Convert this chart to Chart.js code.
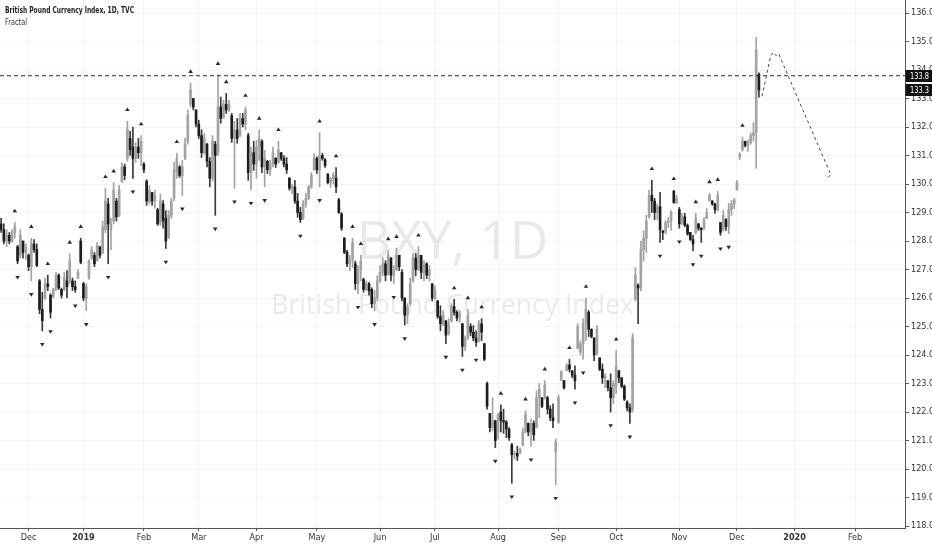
<!DOCTYPE html>
<html><head><meta charset="utf-8">
<script src="https://cdn.jsdelivr.net/npm/chart.js@4.4.1/dist/chart.umd.min.js"></script>
<style>html,body{margin:0;padding:0;background:#fff}#wrap{position:relative;width:932px;height:550px}</style>
</head><body><div id="wrap"><canvas id="c" width="932" height="550"></canvas></div>
<script>
// ---- categories (trading calendar) ----
const startDate = '2018-11-19';
const holidays = ['2018-12-25','2019-01-01','2019-12-25','2020-01-01'];
const monthNames = ['Jan','Feb','Mar','Apr','May','Jun','Jul','Aug','Sep','Oct','Nov','Dec'];

// ---- series values (daily OHLC) ----
const openP = [
128.6,128.4,128.0,128.2,128.0,128.3,127.8,127.5,128.0,127.6,
127.5,127.1,127.9,127.7,126.6,125.6,126.0,126.5,126.1,126.05,
126.3,126.8,126.3,126.3,126.6,126.6,126.6,126.4,126.7,128.0,
126.5,126.0,126.7,127.4,127.5,127.3,127.8,127.6,128.4,129.3,
128.4,128.7,129.4,128.9,130.1,130.6,130.9,131.6,131.3,130.9,
131.3,131.1,130.7,130.1,129.4,129.7,129.4,129.1,128.65,129.3,
128.8,128.1,128.9,129.5,130.4,130.6,130.3,130.9,131.5,132.8,
133.0,132.6,132.1,131.7,131.1,131.4,130.8,130.2,131.4,131.1,
132.7,132.35,132.8,132.6,132.4,131.6,131.9,131.7,132.3,132.1,
131.7,130.4,131.1,130.7,131.3,131.5,130.6,130.8,130.5,130.7,
130.9,130.75,131.1,130.9,130.7,130.2,129.85,129.9,129.4,129.0,
128.8,129.3,129.5,129.9,130.5,130.9,130.5,131.0,130.85,130.35,
130.05,130.2,130.2,129.45,128.95,128.1,127.6,127.2,127.35,127.2,
126.5,127.0,126.65,126.3,126.5,126.3,125.8,126.0,126.6,126.9,
127.2,126.85,127.4,126.8,127.0,127.5,126.9,126.0,125.4,125.8,
126.6,127.4,127.0,127.5,126.9,127.2,126.8,126.5,126.0,125.9,
125.35,125.1,125.2,124.75,125.2,125.7,125.5,125.3,125.1,124.3,
124.6,125.0,124.8,124.6,124.5,125.1,124.4,123.0,121.95,121.45,
121.7,121.3,122.0,121.7,121.65,121.4,120.85,120.5,120.55,120.55,
120.85,121.3,121.6,121.3,121.6,121.45,122.5,122.5,122.5,122.5,
122.1,121.8,120.6,121.65,123.1,123.1,123.45,123.65,123.45,123.3,
124.25,124.1,124.4,125.1,125.5,124.9,124.6,124.05,123.9,123.5,
123.2,123.1,122.85,122.5,122.9,123.45,123.2,122.9,122.35,122.15,
122.1,125.95,126.45,126.35,127.7,128.1,128.85,129.6,129.4,129.0,
129.2,128.35,128.3,128.65,128.7,129.75,129.35,129.1,128.6,128.85,
128.55,128.3,128.05,128.3,128.6,128.45,128.45,128.8,129.42,129.4,
129.3,129.1,128.65,128.4,128.75,128.5,129.1,129.3,129.8,130.95,
131.2,131.5,131.35,131.45,131.7,131.8,133.85];
const highP = [
128.8,128.6,128.4,128.3,128.4,128.65,127.85,128.4,128.0,127.9,
127.55,128.1,128.05,127.9,126.65,126.2,126.7,126.8,126.15,126.35,
126.9,126.85,126.35,126.9,126.96,127.55,126.7,126.6,127.0,128.1,
126.55,126.5,127.35,127.8,127.6,127.95,127.8,128.7,129.85,129.5,
128.8,130.05,129.5,129.95,130.75,130.7,132.2,131.85,132.0,131.45,
131.6,131.7,130.75,130.15,129.95,129.7,129.78,129.15,129.65,129.42,
129.07,129.07,129.5,130.76,131.08,130.65,130.83,131.6,132.6,133.54,
133.0,132.6,132.24,131.9,131.78,131.43,130.93,131.7,131.5,133.82,
133.05,132.94,133.18,132.94,132.48,132.2,132.3,132.48,132.48,132.7,
131.78,131.3,131.5,131.53,131.9,131.55,131.18,130.83,130.83,131.3,
130.93,131.5,131.1,131.0,130.93,130.23,130.0,130.13,129.67,129.18,
129.42,129.67,129.95,130.4,131.07,130.95,131.8,131.08,130.9,130.37,
130.23,130.4,130.58,129.5,129.0,128.12,127.67,127.5,128.1,127.3,
127.14,127.5,126.7,126.6,126.55,126.36,126.26,126.78,127.14,127.42,
127.31,127.67,127.42,127.14,127.75,127.5,127.0,126.0,125.8,126.7,
127.56,127.56,127.8,127.5,127.31,127.24,127.14,126.5,126.43,125.91,
125.73,125.56,125.21,125.28,125.8,125.95,125.56,125.56,125.1,124.67,
125.6,125.1,125.03,124.85,125.21,125.28,124.4,123.05,121.95,122.5,
121.7,121.95,122.25,122.1,121.7,121.45,120.9,120.63,120.8,120.74,
121.44,122.05,121.62,121.76,121.69,122.74,123.0,122.5,123.1,122.55,
122.22,122.29,121.06,122.6,123.45,123.1,123.7,123.85,123.45,123.62,
125.1,124.5,125.27,126.0,125.56,124.92,124.61,125.03,123.9,123.69,
123.34,123.1,123.34,123.1,124.15,123.45,123.2,122.95,122.39,122.29,
124.75,127.07,126.5,128.0,128.35,128.9,129.78,130.13,129.5,129.3,
129.71,128.37,128.72,128.83,129.07,129.78,129.6,129.18,128.97,128.97,
128.6,128.3,128.2,128.97,128.62,128.47,128.83,129.14,129.67,129.42,
129.32,129.75,128.65,129.07,128.79,129.32,129.42,129.49,130.13,131.1,
131.65,131.5,131.55,131.8,132.15,135.15,133.9];
const lowP = [
128.3,127.9,127.8,127.9,127.95,128.1,127.2,127.4,127.4,127.35,
126.96,126.6,127.6,127.1,125.45,124.85,125.95,126.26,125.3,126.0,
126.26,126.3,126.0,126.26,126.0,126.5,126.26,126.2,126.68,127.2,
125.9,125.55,126.65,127.35,127.1,127.3,127.4,127.55,128.3,127.2,
127.7,128.6,128.7,128.85,130.05,130.15,130.8,131.0,130.2,130.76,
130.9,130.65,130.4,129.25,129.3,129.25,129.15,128.55,128.55,128.45,
127.74,128.1,128.8,129.42,130.2,130.23,129.6,130.85,131.4,132.7,
132.6,132.0,131.6,130.93,131.05,130.6,129.9,130.1,128.9,131.0,
132.13,132.3,132.48,132.55,131.46,129.85,131.43,131.65,132.0,131.9,
130.13,129.8,130.48,130.2,130.83,130.4,129.9,130.37,130.3,130.6,
130.58,130.73,130.83,130.6,130.37,129.78,129.67,129.32,128.83,128.65,
128.75,129.18,129.45,129.85,130.48,130.37,129.9,130.83,130.58,130.0,
129.88,130.0,129.7,128.97,128.37,127.56,127.1,126.96,127.07,126.3,
126.15,126.6,126.2,126.26,126.1,125.66,125.55,125.9,126.55,126.78,
126.6,126.8,126.6,126.5,126.95,126.96,125.9,125.05,125.1,125.75,
126.55,126.78,126.96,126.68,126.6,126.68,126.6,125.9,125.95,125.28,
124.85,125.03,124.4,124.7,125.15,125.4,125.2,125.14,123.95,124.15,
124.55,124.67,124.5,124.3,124.45,124.5,123.8,122.1,121.3,121.34,
120.75,121.05,121.3,121.25,121.1,121.0,119.5,120.35,120.3,120.53,
120.8,121.27,121.16,120.8,121.0,121.44,121.8,122.15,122.45,121.93,
121.69,121.45,119.45,121.6,123.1,122.8,123.45,123.4,123.2,122.8,
124.2,124.0,123.85,124.5,124.65,124.6,123.8,124.0,123.45,123.0,
122.85,122.74,122.0,122.3,122.65,123.03,122.85,122.4,122.04,121.6,
122.0,125.9,125.1,126.25,127.3,127.6,128.8,129.0,128.75,128.75,
127.95,128.05,128.26,128.47,128.37,129.32,129.3,128.45,128.58,128.5,
128.2,128.02,127.65,128.26,128.37,127.95,128.4,128.79,129.4,129.25,
128.97,129.05,128.2,128.35,128.37,128.26,128.9,129.14,129.78,130.85,
131.15,131.3,131.15,131.4,131.5,130.55,133.05];
const closeP = [
128.4,128.0,128.2,128.0,128.3,128.5,127.3,128.2,127.6,127.8,
127.1,127.9,127.7,127.15,125.6,125.2,126.5,126.4,125.5,126.3,
126.8,126.35,126.1,126.7,126.4,127.3,126.4,126.3,126.9,127.25,
126.0,126.4,127.3,127.7,127.2,127.85,127.5,128.5,129.4,128.6,
128.6,129.8,128.85,129.8,130.6,130.3,131.9,131.2,130.9,131.3,
131.1,131.5,130.5,129.4,129.8,129.4,129.6,128.6,129.4,128.7,
128.0,128.9,129.4,130.5,130.9,130.3,130.6,131.4,132.4,133.3,
132.7,132.1,131.7,131.1,131.6,130.8,130.2,131.5,131.0,132.7,
132.3,132.8,132.6,132.8,131.6,131.9,131.6,132.3,132.1,132.6,
130.4,131.1,130.7,131.3,131.6,130.6,130.9,130.5,130.7,131.1,
130.7,131.2,130.9,130.7,130.5,129.85,129.9,129.4,129.0,128.75,
129.3,129.5,129.9,130.3,130.9,130.5,131.0,130.9,130.65,130.05,
130.2,130.3,129.9,129.0,128.45,127.6,127.2,127.35,127.95,126.5,
127.0,127.3,126.3,126.5,126.25,125.8,126.0,126.6,126.9,127.2,
126.8,127.5,126.8,127.0,127.5,127.1,126.0,125.4,125.7,126.5,
127.4,127.0,127.5,126.9,127.2,126.8,127.0,126.0,126.3,125.35,
125.1,125.4,124.7,125.1,125.7,125.5,125.3,125.45,124.3,124.6,
125.4,124.8,124.6,124.45,125.1,124.8,123.85,122.2,121.45,121.7,
121.0,121.9,121.7,121.65,121.4,121.1,120.5,120.55,120.45,120.7,
121.3,121.9,121.3,121.6,121.2,122.5,122.8,122.2,122.95,122.1,
121.8,121.7,120.95,122.5,123.4,122.85,123.65,123.5,123.3,123.1,
125.0,124.4,125.1,125.6,124.9,124.65,124.0,124.9,123.5,123.2,
123.25,122.85,122.5,123.0,123.6,123.2,122.9,122.45,122.15,122.0,
124.6,126.8,126.35,127.7,128.1,128.7,129.6,129.4,129.0,129.2,
128.4,128.3,128.65,128.7,129.0,129.35,129.5,128.6,128.85,128.55,
128.25,128.05,127.9,128.8,128.45,128.4,128.75,129.0,129.6,129.3,
129.1,129.6,128.3,128.9,128.5,129.1,129.3,129.45,130.05,131.05,
131.5,131.35,131.45,131.7,131.8,134.7,133.3];

// Fractal indicator marks (bar numbers)
const fractalUp = [5,11,17,25,29,38,41,46,51,64,69,79,82,89,94,101,116,122,128,131,141,144,152,165,170,175,182,191,198,207,213,224,237,245,253,258,261,270];
const fractalDown = [6,11,15,18,27,31,39,48,60,66,78,85,91,96,109,116,130,136,143,147,162,168,173,180,186,193,202,209,212,222,229,240,247,252,255,262,265];

// Drawings: horizontal level and projected path (bar number, price)
const levelLine = 133.8;
const projBar = [277.1,280.3,281.3,282.3,283.2,301.5,302.2,301.1,300.1];
const projVal = [133.08,134.5,134.62,134.5,134.57,130.48,130.34,130.22,130.3];

// Tick labels
const yTicks = [118,119,120,121,122,123,124,125,126,127,128,129,130,131,132,133,134,135,136];
const titleText = 'British Pound Currency Index, 1D, TVC';
const indicatorText = 'Fractal';
const watermarkTop = 'BXY, 1D';
const watermarkBottom = 'British Pound Currency Index';

// ---- build calendar ----
const dates = [];
{ let d = new Date(startDate + 'T00:00:00Z');
  while (dates.length < 340) {
    const s = d.toISOString().slice(0,10), w = d.getUTCDay();
    if (w !== 0 && w !== 6 && !holidays.includes(s)) dates.push(s);
    d.setUTCDate(d.getUTCDate() + 1);
  } }
const X_MIN = -0.4, X_MAX = 329.2;
const monthTicks = [];
for (let i = 1; i < dates.length && i <= X_MAX; i++) {
  const m = +dates[i].slice(5,7), pm = +dates[i-1].slice(5,7);
  if (m !== pm) monthTicks.push({ value: i, label: m === 1 ? dates[i].slice(0,4) : monthNames[m-1], year: m === 1 });
}
const tickLabel = {}; monthTicks.forEach(t => tickLabel[t.value] = t);

const UP = '#a2a2a2', DOWN = '#1c1c1c';
const n = closeP.length;
const idx = Array.from({length: n}, (_, i) => i);
const isUp = idx.map(i => closeP[i] >= openP[i]);
const FONT = "'Liberation Sans Narrow','DejaVu Sans Condensed','Liberation Sans',Arial,sans-serif";

function narrowText(ctx, txt, x, y, targetW) {
  const w = ctx.measureText(txt).width;
  const k = Math.min(1, targetW / w);
  ctx.save(); ctx.translate(x, y); ctx.scale(k, 1); ctx.fillText(txt, 0, 0); ctx.restore();
}

const decor = {
  id: 'decor',
  beforeDatasetsDraw(chart) {
    const { ctx, chartArea: a } = chart;
    ctx.save();
    ctx.fillStyle = 'rgba(0,0,0,0.085)';
    ctx.textAlign = 'center';
    ctx.textBaseline = 'alphabetic';
    const cx = (a.left + a.right) / 2;
    const fit = (txt, w) => { ctx.font = "100px 'Open Sans',sans-serif"; const m = ctx.measureText(txt).width; ctx.font = (100 * w / m).toFixed(1) + "px 'Open Sans',sans-serif"; };
    fit(watermarkTop, 192); ctx.fillText(watermarkTop, cx, 259);
    fit(watermarkBottom, 362); ctx.fillText(watermarkBottom, cx, 314);
    ctx.restore();
  },
  afterDatasetsDraw(chart) {
    const { ctx } = chart, xs = chart.scales.x, ys = chart.scales.y;
    ctx.save();
    ctx.fillStyle = '#2a2a2a';
    fractalUp.forEach(i => {
      const x = xs.getPixelForValue(i), y = ys.getPixelForValue(highP[i]) - 12;
      ctx.beginPath(); ctx.moveTo(x - 2.3, y + 1.8); ctx.lineTo(x, y - 1.8); ctx.lineTo(x + 2.3, y + 1.8); ctx.closePath(); ctx.fill();
    });
    fractalDown.forEach(i => {
      const x = xs.getPixelForValue(i), y = ys.getPixelForValue(lowP[i]) + 14;
      ctx.beginPath(); ctx.moveTo(x - 2.3, y - 1.8); ctx.lineTo(x, y + 1.8); ctx.lineTo(x + 2.3, y - 1.8); ctx.closePath(); ctx.fill();
    });
    ctx.restore();
  },
  afterDraw(chart) {
    const { ctx, chartArea: a } = chart, ys = chart.scales.y;
    ctx.save();
    ctx.textAlign = 'left'; ctx.textBaseline = 'alphabetic';
    ctx.fillStyle = '#1e1e1e';
    ctx.font = 'bold 9px ' + FONT; narrowText(ctx, titleText, 5, 13, 129);
    ctx.fillStyle = '#333';
    ctx.font = '9px ' + FONT; narrowText(ctx, indicatorText, 5, 25, 22);
    const box = (val) => {
      const y = Math.round(ys.getPixelForValue(val));
      ctx.fillStyle = '#111';
      ctx.fillRect(a.right + 0.5, y - 6, chart.width - a.right, 12);
      ctx.fillStyle = '#fff'; ctx.textBaseline = 'middle';
      ctx.font = '9px ' + FONT;
      narrowText(ctx, val.toFixed(1), a.right + 5, y + 0.5, 19);
    };
    box(levelLine);
    box(closeP[n - 1]);
    ctx.restore();
  }
};

new Chart(document.getElementById('c'), {
  type: 'bar',
  data: {
    datasets: [
      { type: 'line', label: 'level', data: [{x: X_MIN, y: levelLine}, {x: X_MAX, y: levelLine}],
        borderColor: '#2a2a2a', borderWidth: 1, borderDash: [4, 3], pointRadius: 0, order: -2 },
      { type: 'line', label: 'path', data: projBar.map((b, k) => ({x: b, y: projVal[k]})),
        borderColor: '#444', borderWidth: 1, borderDash: [3, 3], pointRadius: 0, tension: 0, order: -1 },
      { label: 'bodies', data: idx.map(i => ({x: i, y: [openP[i], closeP[i]]})),
        backgroundColor: idx.map(i => isUp[i] ? UP : DOWN), barThickness: 2, minBarLength: 1,
        grouped: false, borderWidth: 0, order: 0 },
      { label: 'wicks', data: idx.map(i => ({x: i, y: [lowP[i], highP[i]]})),
        backgroundColor: idx.map(i => isUp[i] ? UP : '#3a3a3a'), barThickness: 1,
        grouped: false, borderWidth: 0, order: 1 }
    ]
  },
  options: {
    responsive: false, animation: false, events: [],
    layout: { padding: 0 },
    plugins: { legend: { display: false }, tooltip: { enabled: false } },
    scales: {
      x: {
        type: 'linear', min: X_MIN, max: X_MAX, offset: false,
        grid: { offset: false, color: '#f3f3f3', tickColor: '#555', tickLength: 3 },
        border: { color: '#555' },
        afterBuildTicks: s => { s.ticks = monthTicks.map(t => ({ value: t.value })); },
        afterFit: s => { s.height = 22; s.paddingLeft = 0; s.paddingRight = 0; s.paddingTop = 0; s.paddingBottom = 0; },
        ticks: {
          autoSkip: false, maxRotation: 0, padding: 1, color: '#333',
          font: c => ({ family: FONT, size: 9, weight: (c.tick && tickLabel[c.tick.value] && tickLabel[c.tick.value].year) ? 'bold' : 'normal' }),
          callback: v => tickLabel[v] ? tickLabel[v].label : ''
        }
      },
      y: {
        type: 'linear', position: 'right', min: 117.93, max: 136.457,
        grid: { color: '#f3f3f3', tickColor: '#555', tickLength: 4 },
        border: { color: '#555' },
        afterBuildTicks: s => { s.ticks = yTicks.map(v => ({ value: v })); },
        afterFit: s => { s.width = 27; s.paddingTop = 0; s.paddingBottom = 0; s.paddingLeft = 0; s.paddingRight = 0; },
        ticks: { padding: 2, color: '#333', font: { family: FONT, size: 9 }, callback: v => v.toFixed(1) }
      }
    }
  },
  plugins: [decor]
});
</script></body></html>
